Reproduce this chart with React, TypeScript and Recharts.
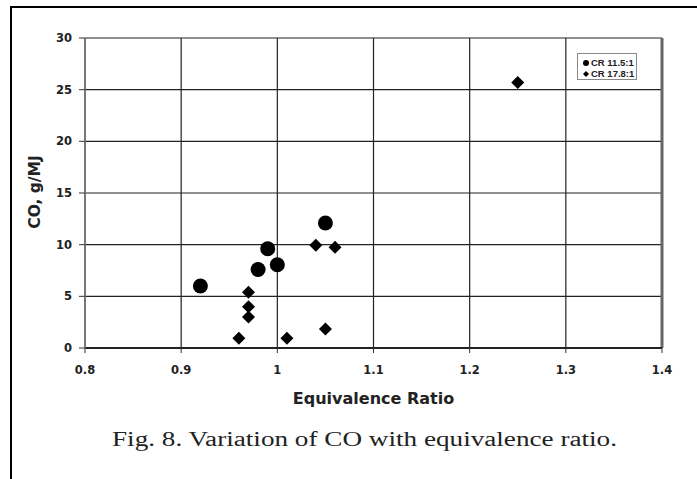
import React from 'react';
import {
  ScatterChart,
  Scatter,
  XAxis,
  YAxis,
  CartesianGrid,
  ReferenceLine,
  Legend,
  Label,
} from 'recharts';

// ---- data ----
const seriesNames = ['CR 11.5:1', 'CR 17.8:1'];

const cr115X = [0.92, 0.98, 0.99, 1.0, 1.05];
const cr115Y = [6.0, 7.6, 9.6, 8.05, 12.1];

const cr178X = [0.96, 0.97, 0.97, 0.97, 1.01, 1.04, 1.05, 1.06, 1.25];
const cr178Y = [0.95, 5.4, 4.0, 3.0, 0.95, 9.95, 1.85, 9.75, 25.7];

const xTicks = [0.8, 0.9, 1, 1.1, 1.2, 1.3, 1.4];
const yTicks = [0, 5, 10, 15, 20, 25, 30];

const xTitle = 'Equivalence Ratio';
const yTitle = 'CO, g/MJ';
const caption = 'Fig. 8. Variation of CO with equivalence ratio.';

const cr115Data = cr115X.map((x, i) => ({ x, y: cr115Y[i] }));
const cr178Data = cr178X.map((x, i) => ({ x, y: cr178Y[i] }));

const SANS = '"DejaVu Sans", "Liberation Sans", Arial, sans-serif';
const ARIAL = '"Liberation Sans", Arial, sans-serif';
const SERIF = '"Liberation Serif", "Times New Roman", serif';

const CircleShape = (props: any) => {
  const { cx, cy } = props;
  if (cx == null || cy == null) return null;
  return <circle cx={cx} cy={cy} r={7.5} fill="#000" />;
};

const DiamondShape = (props: any) => {
  const { cx, cy } = props;
  if (cx == null || cy == null) return null;
  const s = 6.5;
  return (
    <path
      d={`M${cx},${cy - s} L${cx + s},${cy} L${cx},${cy + s} L${cx - s},${cy} Z`}
      fill="#000"
    />
  );
};

const LegendBox = () => (
  <div
    style={{
      width: 60,
      height: 27,
      border: '1px solid #888',
      background: '#fff',
      boxSizing: 'border-box',
      padding: '3px 0 0 4px',
      fontFamily: ARIAL,
      fontWeight: 700,
      fontSize: 9.5,
      color: '#222',
      lineHeight: '11px',
    }}
  >
    {seriesNames.map((n, i) => (
      <div key={n} style={{ display: 'flex', alignItems: 'center', whiteSpace: 'nowrap' }}>
        <svg width={8} height={8} style={{ marginRight: 1 }}>
          {i === 0 ? (
            <circle cx={4} cy={4} r={3} fill="#000" />
          ) : (
            <path d="M4,1 L7,4 L4,7 L1,4 Z" fill="#000" />
          )}
        </svg>
        <span>{n}</span>
      </div>
    ))}
  </div>
);

export default function App() {
  return (
    <div
      style={{
        position: 'absolute',
        left: 0,
        top: 0,
        width: 697,
        height: 479,
        background: '#fff',
        overflow: 'hidden',
      }}
    >
      <ScatterChart
        width={697}
        height={479}
        margin={{ top: 38, right: 35, bottom: 91, left: 0 }}
      >
        <CartesianGrid stroke="#222" strokeWidth={1.2} />
        <XAxis
          type="number"
          dataKey="x"
          domain={[0.8, 1.4]}
          ticks={xTicks}
          allowDataOverflow
          height={40}
          tickSize={5}
          tickMargin={13}
          axisLine={{ stroke: '#222', strokeWidth: 2 }}
          tickLine={{ stroke: '#333' }}
          tick={{ fontFamily: SANS, fontWeight: 700, fontSize: 11.5, fill: '#222' }}
          tickFormatter={(v: number) => String(v)}
        >
          <Label
            value={xTitle}
            position="bottom"
            offset={5}
            style={{ fontFamily: SANS, fontWeight: 700, fontSize: 16, fill: '#222' }}
          />
        </XAxis>
        <YAxis
          type="number"
          dataKey="y"
          domain={[0, 30]}
          ticks={yTicks}
          allowDataOverflow
          width={85}
          tickSize={6}
          tickMargin={7}
          axisLine={{ stroke: '#777', strokeWidth: 2 }}
          tickLine={{ stroke: '#333' }}
          tick={{ fontFamily: SANS, fontWeight: 700, fontSize: 11.5, fill: '#222' }}
        >
          <Label
            content={() => (
              <text
                x={35}
                y={192}
                transform="rotate(-90, 35, 192)"
                textAnchor="middle"
                dominantBaseline="central"
                style={{ fontFamily: SANS, fontWeight: 700, fontSize: 15.5, fill: '#222' }}
              >
                {yTitle}
              </text>
            )}
          />
        </YAxis>
        <ReferenceLine x={1.4} stroke="#666" strokeWidth={3} />
        <Legend
          layout="vertical"
          align="center"
          verticalAlign="middle"
          wrapperStyle={{ left: 577, top: 53, width: 62 }}
          content={() => <LegendBox />}
        />
        <Scatter
          name={seriesNames[0]}
          data={cr115Data}
          fill="#000"
          shape={CircleShape}
          isAnimationActive={false}
        />
        <Scatter
          name={seriesNames[1]}
          data={cr178Data}
          fill="#000"
          shape={DiamondShape}
          isAnimationActive={false}
        />
      </ScatterChart>
      <svg
        width={697}
        height={479}
        style={{ position: 'absolute', left: 0, top: 0, pointerEvents: 'none' }}
      >
        <line x1={11} y1={7} x2={697} y2={7} stroke="#000" strokeWidth={2} />
        <line x1={11} y1={6} x2={11} y2={479} stroke="#000" strokeWidth={2} />
        <text
          x={112}
          y={446}
          textLength={505}
          lengthAdjust="spacingAndGlyphs"
          style={{ fontFamily: SERIF, fontSize: 20, fill: '#222' }}
        >
          {caption}
        </text>
      </svg>
    </div>
  );
}
